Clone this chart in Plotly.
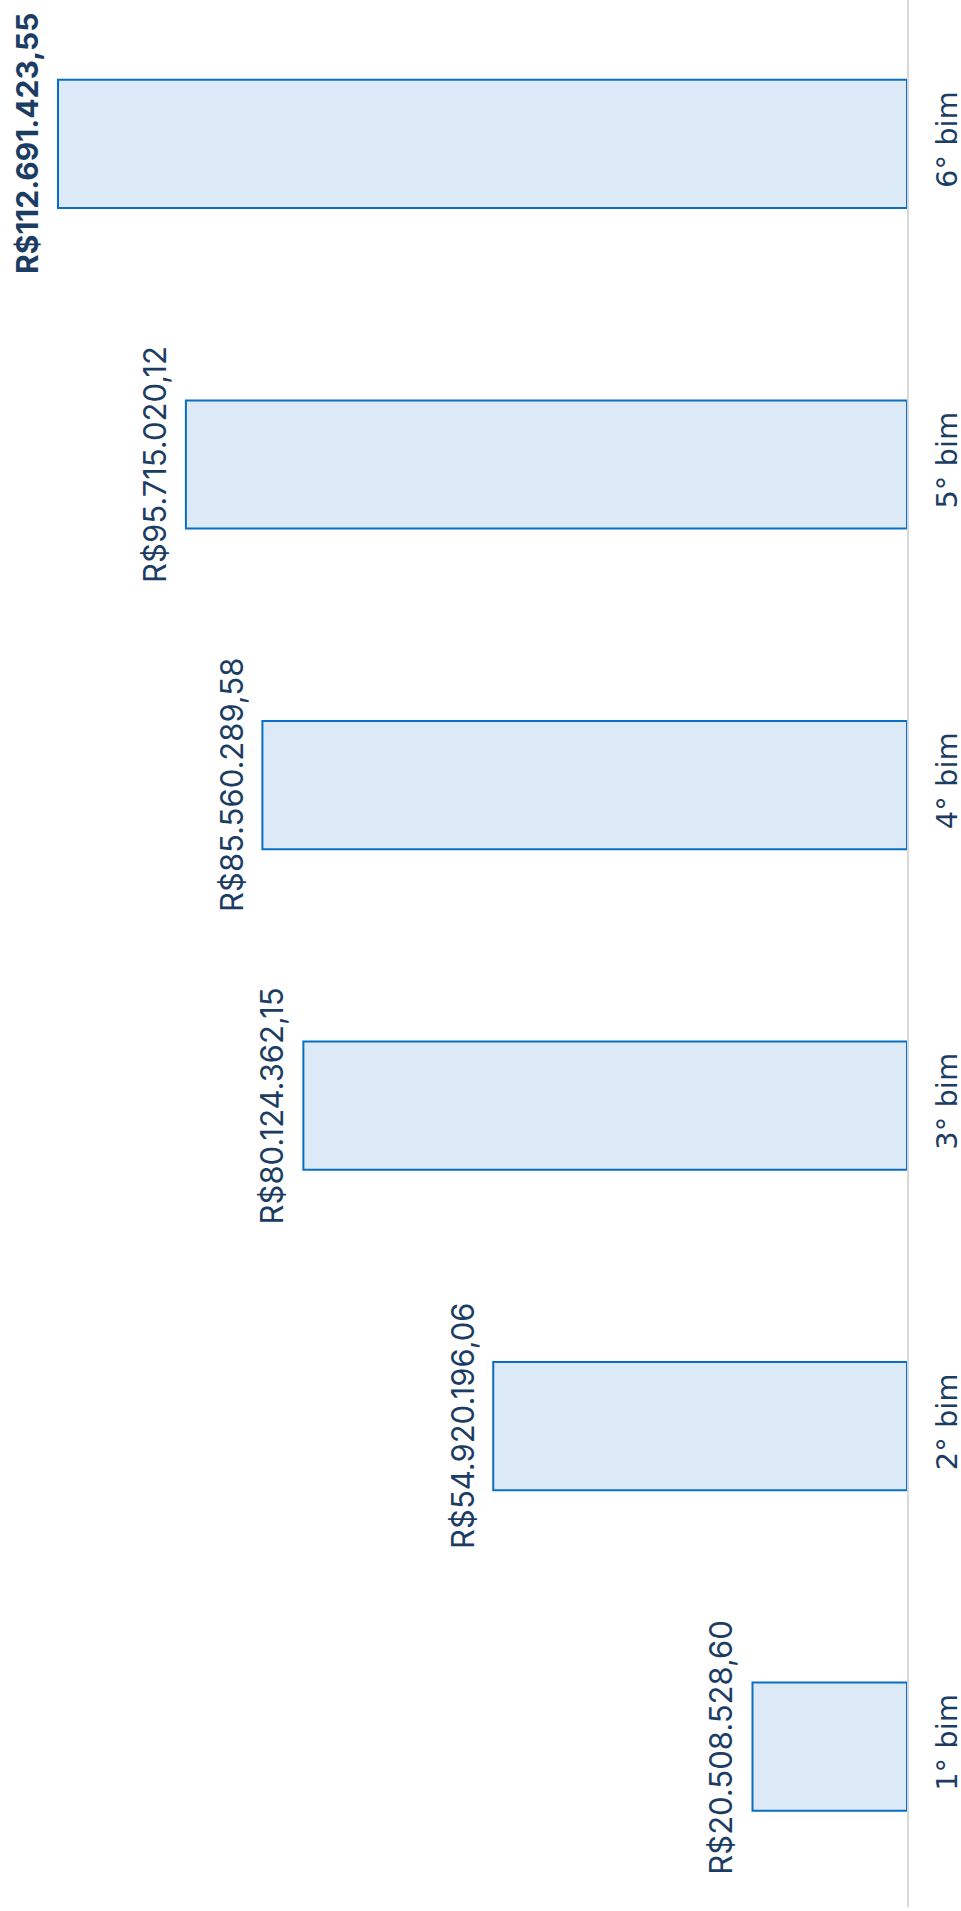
import plotly.graph_objects as go

categories = ["1° bim", "2° bim", "3° bim", "4° bim", "5° bim", "6° bim"]
values = [20508528.60, 54920196.06, 80124362.15, 85560289.58, 95715020.12, 112691423.55]
labels = ["R$20.508.528,60", "R$54.920.196,06", "R$80.124.362,15",
          "R$85.560.289,58", "R$95.715.020,12", "R$112.691.423,55"]

TEXT = "#1c3d63"
FONT = "Inter, 'DejaVu Sans', sans-serif"
TICKFONT = "'DejaVu Sans', Inter, sans-serif"

fig = go.Figure(go.Bar(
    y=categories, x=values, orientation="h", width=0.4,
    marker=dict(color="#dce9f6", line=dict(color="#0a6fc2", width=2)),
    hoverinfo="skip",
))

vmax = max(values)
for c, v, t in zip(categories, values, labels):
    fig.add_annotation(
        x=v, y=c, xref="x", yref="y", text=f"<b>{t}</b>" if v == vmax else t,
        showarrow=False, textangle=-90, xanchor="right", yanchor="middle",
        xshift=-11, font=dict(family=FONT, size=31 if v != vmax else 30, color=TEXT),
    )

fig.update_layout(
    width=961, height=1911,
    margin=dict(l=0, r=54, t=0, b=4),
    paper_bgcolor="white", plot_bgcolor="white",
    showlegend=False,
    xaxis=dict(range=[120.39e6, 0], visible=False, showgrid=False,
               zeroline=False, automargin=False),
    yaxis=dict(
        side="right", range=[-0.5, 5.449], tickangle=-90,
        showline=True, linecolor="#d9d9d9", linewidth=2,
        showgrid=False, zeroline=False, ticks="", automargin=False,
        ticklabelstandoff=13,
        tickfont=dict(family=TICKFONT, size=29, color=TEXT),
    ),
)

fig.write_html("out.html", config={"displayModeBar": False},
               post_script="document.body.style.margin='0';")
